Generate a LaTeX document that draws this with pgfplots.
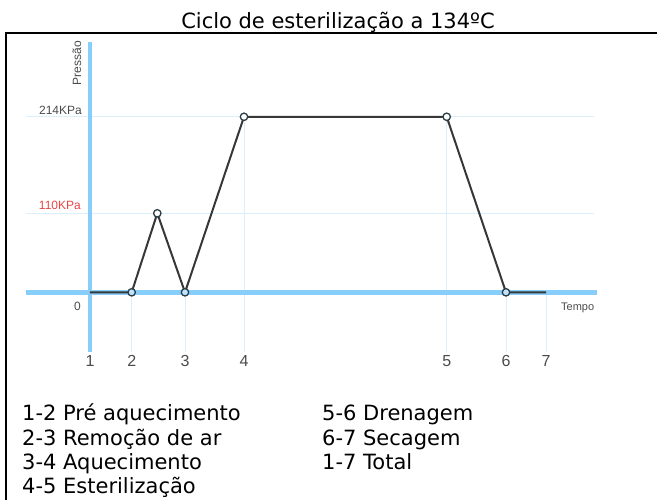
\documentclass[border=0pt]{standalone}
\usepackage{pgfplots}
\pgfplotsset{compat=1.18}
\usepackage{fontspec}
\setmainfont{DejaVu Sans}
\newfontfamily\arialfont{Liberation Sans}
\definecolor{axblue}{RGB}{135,206,250}
\definecolor{gridblue}{RGB}{220,239,252}
\definecolor{linegray}{RGB}{55,55,55}
\definecolor{markgray}{RGB}{45,62,72}
\definecolor{labred}{RGB}{235,70,70}
\definecolor{labgray}{RGB}{75,75,75}
\begin{document}
\begin{tikzpicture}
\useasboundingbox (0,0) rectangle (657pt,499pt);
\draw[line width=2.5pt] (6pt,-20pt) -- (6pt,466pt) -- (690pt,466pt);
\node[anchor=base, inner sep=0pt, font=\fontsize{21}{25}\selectfont] at (338pt,470pt) {Ciclo de esterilização a 134ºC};
\begin{axis}[
  at={(82pt,147pt)}, anchor=south west,
  scale only axis, width=515pt, height=310pt,
  xmin=-8, xmax=507, ymin=-83.1, ymax=294.6,
  y coord trafo/.code={\pgfkeys{/pgf/fpu=true,/pgf/fpu/output format=fixed}\pgfmathparse{(#1<=110) ? (#1*79/110) : (79+(#1-110)*96.5/104)}\pgfkeys{/pgf/fpu=false}},
  axis line style={draw=none},
  clip=false,
  xtick={0,41.7,95,154,356.7,416,456},
  xticklabels={1,2,3,4,5,6,7},
  ytick=\empty,
  tick style={draw=none},
  major tick length=0pt,
  xticklabel style={font=\arialfont\fontsize{16}{16}\selectfont, text=labgray},
  /pgf/number format/assume math mode=true,
]
% grid
\draw[gridblue, line width=1pt] (axis cs:-64,110) -- (axis cs:504,110);
\draw[gridblue, line width=1pt] (axis cs:-64,214) -- (axis cs:504,214);
\draw[gridblue, line width=1pt] (axis cs:154,214) -- (axis cs:154,-83.1);
\draw[gridblue, line width=1pt] (axis cs:356.7,214) -- (axis cs:356.7,-83.1);
\draw[gridblue, line width=1pt] (axis cs:41.7,0) -- (axis cs:41.7,-83.1);
\draw[gridblue, line width=1pt] (axis cs:95,0) -- (axis cs:95,-83.1);
\draw[gridblue, line width=1pt] (axis cs:416,0) -- (axis cs:416,-83.1);
\draw[gridblue, line width=1pt] (axis cs:456,0) -- (axis cs:456,-83.1);
% axes
\draw[axblue, line width=4pt] (axis cs:0,-83.1) -- (axis cs:0,294.6);
\draw[axblue, line width=4.5pt] (axis cs:-64,0) -- (axis cs:507,0);
% data
\addplot[linegray, line width=2pt, no markers] coordinates {(0,0) (41.7,0) (67.3,110) (95,0) (154,214) (356.7,214) (416,0) (456,0)};
\addplot[only marks, mark=*, mark size=3.7pt, mark options={fill=white, draw=markgray, line width=1.3pt}] coordinates {(67.3,110) (154,214) (356.7,214)};
\addplot[only marks, mark=*, mark size=3.7pt, mark options={fill=axblue!55!white, draw=markgray, line width=1.3pt}] coordinates {(41.7,0) (95,0) (416,0)};
\end{axis}
% axis texts
\node[anchor=south east, inner sep=0pt, text=labgray, font=\arialfont\fontsize{12}{12}\selectfont] at (82pt,384pt) {214KPa};
\node[anchor=south east, inner sep=0pt, text=labred, font=\arialfont\fontsize{12}{12}\selectfont] at (81pt,289pt) {110KPa};
\node[anchor=east, inner sep=0pt, text=labgray, font=\arialfont\fontsize{12}{12}\selectfont] at (81pt,193pt) {0};
\node[rotate=90, inner sep=0pt, text=labgray, font=\arialfont\fontsize{12}{12}\selectfont] at (77pt,436pt) {Pressão};
\node[anchor=base west, inner sep=0pt, text=labgray, font=\arialfont\fontsize{11}{11}\selectfont] at (561pt,188pt) {Tempo};
% legend
\begin{scope}[every node/.style={anchor=base west, inner sep=0pt, font=\fontsize{21}{25}\selectfont}]
\node at (22pt,78pt) {1-2 Pré aquecimento};
\node at (22pt,54pt) {2-3 Remoção de ar};
\node at (22pt,30pt) {3-4 Aquecimento};
\node at (22pt,6pt) {4-5 Esterilização};
\node at (322pt,78pt) {5-6 Drenagem};
\node at (322pt,54pt) {6-7 Secagem};
\node at (322pt,30pt) {1-7 Total};
\end{scope}
\end{tikzpicture}
\end{document}
